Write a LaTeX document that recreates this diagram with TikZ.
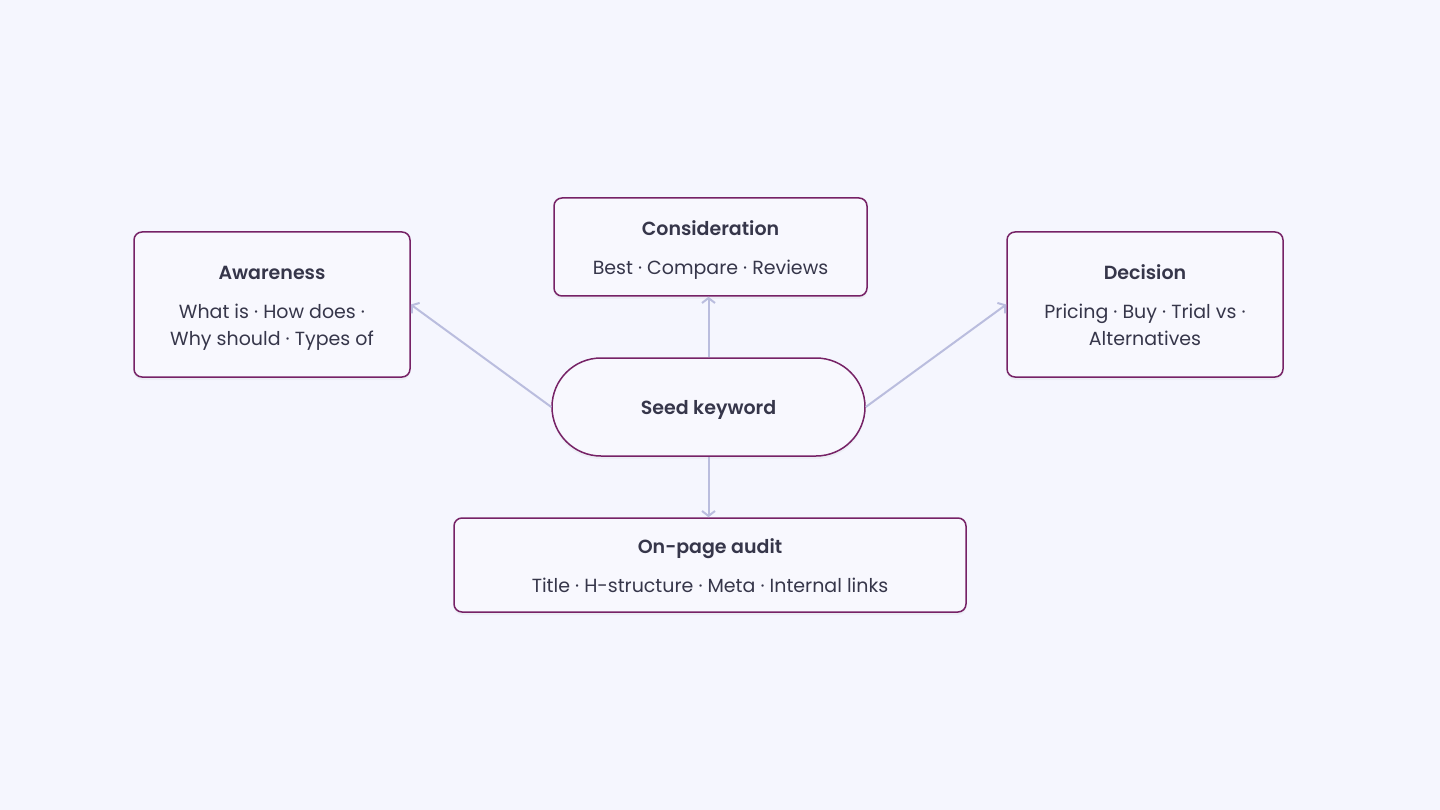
\documentclass[tikz,border=0pt]{standalone}
\usepackage{fontspec}
\setmainfont{Poppins}[BoldFont={Poppins SemiBold}]
\usetikzlibrary{arrows.meta,shadows,positioning}
\definecolor{bgclr}{RGB}{245,246,254}
\definecolor{boxclr}{RGB}{248,248,254}
\definecolor{edgeclr}{RGB}{118,34,102}
\definecolor{linkclr}{RGB}{186,189,222}
\definecolor{txtclr}{RGB}{54,54,74}
\newcommand{\dotsep}{~·~}
\newcommand{\linestrut}{\rule[-5.6pt]{0pt}{27pt}}
\newcommand{\stagehead}[1]{{\fontsize{19}{27}\bfseries\linestrut #1}\\[12pt]}

\begin{document}
\begin{tikzpicture}[x=1pt, y=-1pt,
    stage/.style={draw=edgeclr, line width=1.5pt, fill=boxclr, rounded corners=8pt,
        drop shadow={shadow xshift=0pt, shadow yshift=-3pt, opacity=0.07},
        align=center, text=txtclr, inner sep=0pt,
        font=\fontsize{19}{27}\selectfont},
    link/.style={draw=linkclr, line width=2pt, -{Straight Barb[length=5pt, width=13pt]}}]
    \fill[bgclr] (0,0) rectangle (1440,810);
    % centre
    \node[stage, rounded corners=49pt, minimum width=313pt, minimum height=98pt,
        font=\fontsize{19}{27}\bfseries] (seed) at (708.5,407) {\linestrut Seed keyword};
    % funnel stages
    \node[stage, minimum width=313pt, minimum height=98pt] (consider) at (710.5,247)
        {\stagehead{Consideration}Best\dotsep Compare\dotsep Reviews\linestrut};
    \node[stage, minimum width=276pt, minimum height=145pt] (aware) at (272,304.5)
        {\stagehead{Awareness}What is\dotsep How does\dotsep\\Why should\dotsep Types of\linestrut};
    \node[stage, minimum width=276pt, minimum height=145pt] (decide) at (1145,304.5)
        {\stagehead{Decision}Pricing\dotsep Buy\dotsep Trial vs\dotsep\\Alternatives\linestrut};
    \node[stage, minimum width=512pt, minimum height=94pt] (audit) at (710,565)
        {\stagehead{On-page audit}Title\dotsep H-structure\dotsep Meta\dotsep Internal links\linestrut};
    % links
    \draw[link] (seed.north) -- (seed.north |- consider.south);
    \draw[link] (seed.west) -- (aware.east);
    \draw[link] (seed.east) -- (decide.west);
    \draw[link] (seed.south) -- (seed.south |- audit.north);
\end{tikzpicture}
\end{document}
